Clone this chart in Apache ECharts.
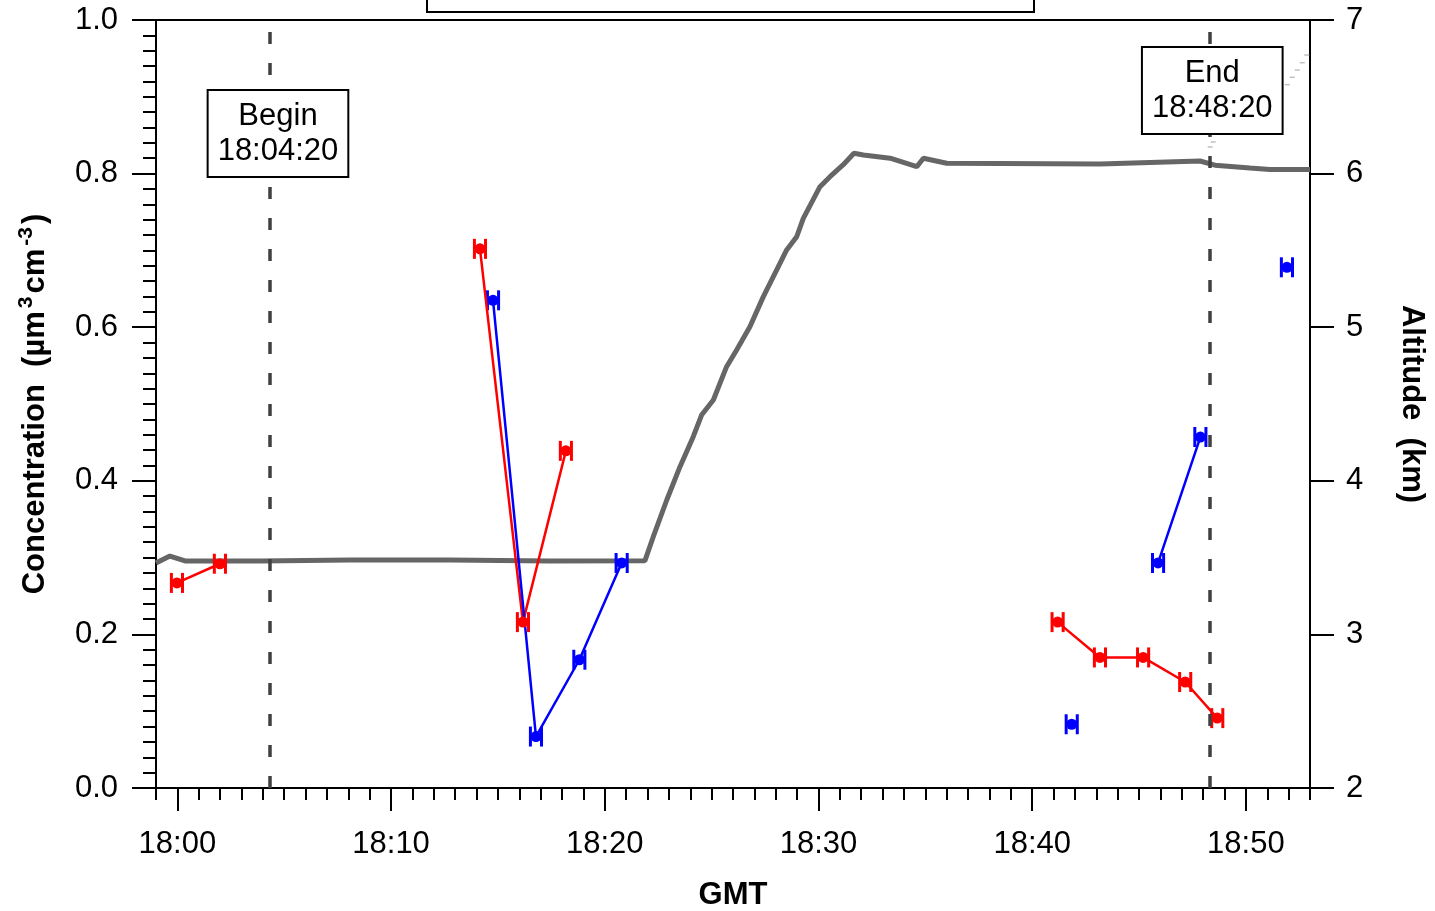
<!DOCTYPE html>
<html><head><meta charset="utf-8">
<script src="https://cdn.jsdelivr.net/npm/echarts@6/dist/echarts.min.js"></script>
<style>html,body{margin:0;padding:0;background:#fff}#c{width:1435px;height:911px}</style>
</head><body><div id="c"></div>
<script>
// time axis in minutes after 18:00 GMT
const xTickMinutes = [0, 10, 20, 30, 40, 50];
const xTickLabels = ['18:00', '18:10', '18:20', '18:30', '18:40', '18:50'];
const yLeftTicks = [0, 0.2, 0.4, 0.6, 0.8, 1.0];
const yRightTicks = [2, 3, 4, 5, 6, 7];

// null = gap in the line
const redTime = [-0.02, 1.99, null, 14.16, 16.17, 18.18, null, 41.19, 43.17, 45.19, 47.16, 48.66];
const redConc = [0.267, 0.292, null, 0.702, 0.216, 0.439, null, 0.216, 0.170, 0.170, 0.138, 0.091];
const blueTime = [14.77, 16.78, 18.81, 20.79, null, 41.85, null, 45.89, 47.87, null, 51.92];
const blueConc = [0.635, 0.067, 0.167, 0.293, null, 0.083, null, 0.293, 0.457, null, 0.678];
const timeErr = 0.26; // +/- minutes

const altTime = [-1.0, -0.35, 0.36, 3.87, 8.08, 12.76, 17.43, 21.88, 22.27, 22.90, 23.52, 24.14, 24.53, 25.08, 25.70, 26.17, 26.79, 27.42, 28.04, 28.51, 28.98, 29.29, 30.07, 30.54, 31.16, 31.66, 32.10, 33.35, 34.60, 34.91, 36.00, 38.49, 43.17, 47.85, 48.55, 50.19, 51.12, 53.0];
const altKm = [3.465, 3.510, 3.478, 3.478, 3.484, 3.484, 3.478, 3.480, 3.636, 3.875, 4.092, 4.287, 4.428, 4.526, 4.743, 4.852, 5.003, 5.199, 5.372, 5.503, 5.589, 5.709, 5.915, 5.980, 6.058, 6.132, 6.121, 6.100, 6.045, 6.100, 6.067, 6.066, 6.063, 6.082, 6.055, 6.036, 6.027, 6.027];
const altFaintTime = [48.33, 48.47, 51.94, 52.17, 52.40, 52.64, 52.85];
const altFaintKm = [6.173, 6.206, 6.579, 6.627, 6.674, 6.722, 6.772];

const beginTime = 4 + 20 / 60;
const endTime = 48 + 20 / 60;
const beginLabel = 'Begin\n18:04:20';
const endLabel = 'End\n18:48:20';

const FONT = '"Liberation Sans", Arial, sans-serif';
const FS = 31;

function pairs(ts, vs) {
  return ts.map((t, i) => (t === null ? ['-', '-'] : [t, vs[i]]));
}
function pts(ts, vs) {
  const out = [];
  ts.forEach((t, i) => { if (t !== null) out.push([t, vs[i]]); });
  return out;
}
function errRender(color) {
  return function (params, api) {
    const t = api.value(0), c = api.value(1);
    const l = api.coord([t - timeErr, c]);
    const r = api.coord([t + timeErr, c]);
    const h = 10;
    const st = { stroke: color, lineWidth: 3 };
    return { type: 'group', children: [
      { type: 'line', shape: { x1: l[0], y1: l[1], x2: r[0], y2: r[1] }, style: st },
      { type: 'line', shape: { x1: l[0], y1: l[1] - h, x2: l[0], y2: l[1] + h }, style: st },
      { type: 'line', shape: { x1: r[0], y1: r[1] - h, x2: r[0], y2: r[1] + h }, style: st }
    ] };
  };
}

const chart = echarts.init(document.getElementById('c'), null, { renderer: 'canvas' });
const axisLineStyle = { color: '#000', width: 2 };
const option = {
  animation: false,
  backgroundColor: '#fff',
  textStyle: { fontFamily: FONT },
  grid: { left: 156, right: 125, top: 20, bottom: 123, containLabel: false, outerBoundsMode: 'none',
    show: true, borderColor: '#000', borderWidth: 2, backgroundColor: 'transparent' },
  xAxis: [
    {
      type: 'value', min: -1, max: 53, interval: 1, position: 'bottom',
      axisLine: { show: true, onZero: false, lineStyle: axisLineStyle },
      axisTick: { show: true, length: 12, lineStyle: { color: '#000', width: 2 } },
      axisLabel: { show: false },
      splitLine: { show: false }
    },
    {
      type: 'value', min: -1, max: 53, position: 'bottom',
      name: 'GMT', nameLocation: 'middle', nameGap: 92,
      nameTextStyle: { fontFamily: FONT, fontSize: FS, fontWeight: 'bold', color: '#000' },
      axisLine: { show: false, onZero: false },
      axisTick: { show: true, length: 23, customValues: xTickMinutes, lineStyle: { color: '#000', width: 2 } },
      axisLabel: { show: true, customValues: xTickMinutes, margin: 41, fontSize: FS, fontFamily: FONT, color: '#000',
        formatter: v => { const i = xTickMinutes.indexOf(Math.round(v)); return i >= 0 && Math.abs(v - xTickMinutes[i]) < 1e-6 ? xTickLabels[i] : ''; } },
      splitLine: { show: false }
    }
  ],
  yAxis: [
    {
      type: 'value', min: yLeftTicks[0], max: yLeftTicks[yLeftTicks.length - 1], interval: 0.2, position: 'left',
      name: '{a|Concentration  (µm}{s|3}{a|cm}{s|-3}{a|)}',
      nameLocation: 'middle', nameGap: 101, nameRotate: 90,
      nameTextStyle: { rich: {
        a: { fontFamily: FONT, fontSize: FS, fontWeight: 'bold', color: '#000' },
        s: { fontFamily: FONT, fontSize: 21, fontWeight: 'bold', color: '#000', padding: [0, 3, 18, 3] }
      } },
      axisLine: { show: true, onZero: false, lineStyle: axisLineStyle },
      axisTick: { show: true, length: 24, lineStyle: { color: '#000', width: 2 } },
      minorTick: { show: true, splitNumber: 10, length: 13, lineStyle: { color: '#000', width: 2 } },
      axisLabel: { margin: 38, fontSize: FS, fontFamily: FONT, color: '#000', formatter: v => v.toFixed(1) },
      splitLine: { show: false }, minorSplitLine: { show: false }
    },
    {
      type: 'value', min: yRightTicks[0], max: yRightTicks[yRightTicks.length - 1], interval: 1, position: 'right',
      name: 'Altitude  (km)', nameLocation: 'middle', nameGap: 86, nameRotate: -90,
      nameTextStyle: { fontFamily: FONT, fontSize: FS, fontWeight: 'bold', color: '#000' },
      axisLine: { show: true, onZero: false, lineStyle: axisLineStyle },
      axisTick: { show: true, length: 24, lineStyle: { color: '#000', width: 2 } },
      axisLabel: { margin: 36, fontSize: FS, fontFamily: FONT, color: '#000' },
      splitLine: { show: false }
    }
  ],
  series: [
    {
      name: 'Altitude', type: 'line', xAxisIndex: 0, yAxisIndex: 1,
      data: pairs(altTime, altKm), showSymbol: false, symbol: 'none',
      lineStyle: { color: '#666666', width: 5 }, z: 2
    },
    {
      name: 'AltitudeFaint', type: 'scatter', xAxisIndex: 0, yAxisIndex: 1,
      data: pts(altFaintTime, altFaintKm), symbol: 'rect', symbolSize: [5, 1.5],
      itemStyle: { color: '#b0b0b0' }, z: 2
    },
    {
      name: 'Red', type: 'line', xAxisIndex: 0, yAxisIndex: 0,
      data: pairs(redTime, redConc), connectNulls: false,
      symbol: 'circle', symbolSize: 11, showSymbol: true,
      itemStyle: { color: '#ff0000' }, lineStyle: { color: '#ff0000', width: 2.5 }, z: 4,
      markLine: {
        silent: true, symbol: ['none', 'none'], label: { show: false },
        lineStyle: { type: [12, 19], width: 3.5, color: '#404040' },
        data: [{ xAxis: beginTime }, { xAxis: endTime }]
      }
    },
    {
      name: 'RedErr', type: 'custom', xAxisIndex: 0, yAxisIndex: 0,
      data: pts(redTime, redConc), renderItem: errRender('#ff0000'), z: 4
    },
    {
      name: 'Blue', type: 'line', xAxisIndex: 0, yAxisIndex: 0,
      data: pairs(blueTime, blueConc), connectNulls: false,
      symbol: 'circle', symbolSize: 11, showSymbol: true,
      itemStyle: { color: '#0000ff' }, lineStyle: { color: '#0000ff', width: 2.5 }, z: 4
    },
    {
      name: 'BlueErr', type: 'custom', xAxisIndex: 0, yAxisIndex: 0,
      data: pts(blueTime, blueConc), renderItem: errRender('#0000ff'), z: 4
    }
  ]
};
chart.setOption(option);

const bx = chart.convertToPixel({ xAxisIndex: 0 }, beginTime);
const ex = chart.convertToPixel({ xAxisIndex: 0 }, endTime);
function boxText(x, y, txt) {
  return {
    type: 'text', x: x, y: y, z: 10,
    style: {
      text: txt, font: FS + 'px ' + FONT, fill: '#000', align: 'center', verticalAlign: 'top',
      lineHeight: 35, backgroundColor: '#fff', borderColor: '#000', borderWidth: 2,
      padding: [8, 9, 7, 9]
    }
  };
}
chart.setOption({
  graphic: [
    { type: 'rect', shape: { x: 427, y: -60, width: 607, height: 72 }, style: { fill: '#fff', stroke: '#000', lineWidth: 2 }, z: 10 },
    boxText(bx + 8, 91, beginLabel),
    boxText(ex + 2, 48, endLabel)
  ]
});
</script>
</body></html>
